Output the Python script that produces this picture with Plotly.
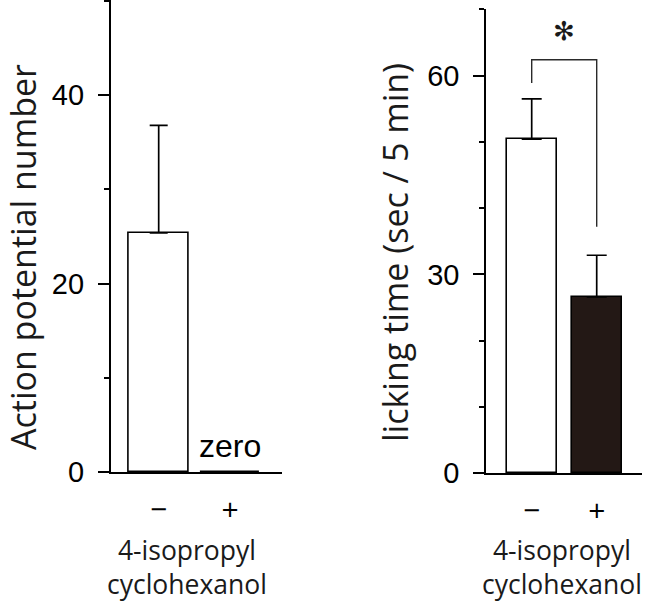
import plotly.graph_objects as go

# ---- data ----
categories = ["\u2212", "+"]
cat_pos = [0, 1]
ap_means = [25.4, 0]
ap_err = [11.4, 0]
lick_means = [50.4, 26.6]
lick_err = [6.1, 6.3]
lick_colors = ["white", "#231815"]
bracket_x = [0, 0, 1, 1]
bracket_y = [58.9, 62.4, 62.4, 37.2]
star_x = 0.5
star_y = 66.7
zero_label_y = 2.8
xtitle_lines = ["4-isopropyl", "cyclohexanol"]

W, H = 649, 613          # target picture size (layout fractions are based on it)
FIG_H = 629              # rendered height (viewport is compressed to 613)
TICKFONT = dict(family="Liberation Sans, Arial, sans-serif", size=29, color="black")
CATFONT = dict(family="Open Sans, sans-serif", size=30, color="black")
TITLEFONT = dict(family="Open Sans, sans-serif", size=34, color="#1a1a1a")
XTITLEFONT = dict(family="Open Sans, sans-serif", size=26.5, color="#1a1a1a")

fig = go.Figure()

fig.add_trace(go.Bar(
    x=cat_pos, y=ap_means, xaxis="x", yaxis="y", width=0.83,
    marker=dict(color="white", line=dict(color="black", width=1.6)),
    error_y=dict(type="data", array=ap_err, arrayminus=[0, 0], symmetric=False,
                 color="black", thickness=1.7, width=9),
))
fig.add_trace(go.Bar(
    x=cat_pos, y=lick_means, xaxis="x2", yaxis="y2", width=0.77,
    marker=dict(color=lick_colors, line=dict(color="black", width=1.6)),
    error_y=dict(type="data", array=lick_err, arrayminus=[0, 0], symmetric=False,
                 color="black", thickness=1.7, width=10),
))
fig.add_trace(go.Scatter(
    x=bracket_x, y=bracket_y, xaxis="x2", yaxis="y2", mode="lines",
    line=dict(color="#2a2a2a", width=1.4), hoverinfo="skip",
))

yax_common = dict(
    showline=True, linecolor="black", linewidth=1.6, showgrid=False, zeroline=False,
    ticks="outside", ticklen=11, tickwidth=1.6, tickcolor="black",
    tickfont=TICKFONT, ticklabelstandoff=8,
    minor=dict(dtick=10, ticks="outside", ticklen=5, tickwidth=1.6, tickcolor="black"),
)
xax_common = dict(
    showline=True, linecolor="black", linewidth=1.6, showgrid=False, zeroline=False,
    ticks="", tickvals=cat_pos, ticktext=categories, tickfont=CATFONT,
    ticklabelstandoff=10,
)

fig.update_layout(
    width=W, height=FIG_H, margin=dict(l=0, r=0, t=0, b=0),
    paper_bgcolor="white", plot_bgcolor="white", showlegend=False, bargap=0,
    xaxis=dict(domain=[110.7 / W, 281.7 / W], range=[-0.673, 1.725], anchor="y", **xax_common),
    yaxis=dict(domain=[(H - 472.3) / H, 1.0], range=[0, 50.1], anchor="x",
               tickvals=[0, 20, 40], **yax_common),
    xaxis2=dict(domain=[486 / W, 641.7 / W], range=[-0.703, 1.692], anchor="y2", **xax_common),
    yaxis2=dict(domain=[(H - 473.3) / H, (H - 9) / H], range=[0, 70.05], anchor="x2",
                tickvals=[0, 30, 60], **yax_common),
)

annotations = [
    dict(text="zero", x=1, y=zero_label_y, xref="x", yref="y", showarrow=False,
         xanchor="center", yanchor="middle",
         font=dict(family="Liberation Sans, Arial, sans-serif", size=32, color="black")),
    dict(text="\u273B", x=star_x, y=star_y, xref="x2", yref="y2", showarrow=False,
         xanchor="center", yanchor="middle",
         font=dict(family="DejaVu Sans", size=26, color="#1a1a1a")),
    dict(text="Action potential number", x=23 / W, y=(H - 257) / H, xref="paper", yref="paper",
         showarrow=False, xanchor="center", yanchor="middle", textangle=-90, font=TITLEFONT),
    dict(text="licking time (sec / 5 min)", x=395 / W, y=(H - 253) / H, xref="paper", yref="paper",
         showarrow=False, xanchor="center", yanchor="middle", textangle=-90, font=TITLEFONT),
]
for cx in (187, 562):
    annotations.append(dict(text="<br>".join(xtitle_lines), x=cx / W, y=(H - 567) / H,
                            xref="paper", yref="paper", showarrow=False,
                            xanchor="center", yanchor="middle", font=XTITLEFONT))
fig.update_layout(annotations=annotations)

post = ("document.documentElement.style.margin='0';document.body.style.margin='0';"
        "document.body.style.overflow='hidden';"
        "var d=document.getElementById('{plot_id}');d.style.position='fixed';"
        "d.style.left='0px';d.style.top='0px';")
fig.write_html("out.html", config={"displayModeBar": False}, post_script=post)
